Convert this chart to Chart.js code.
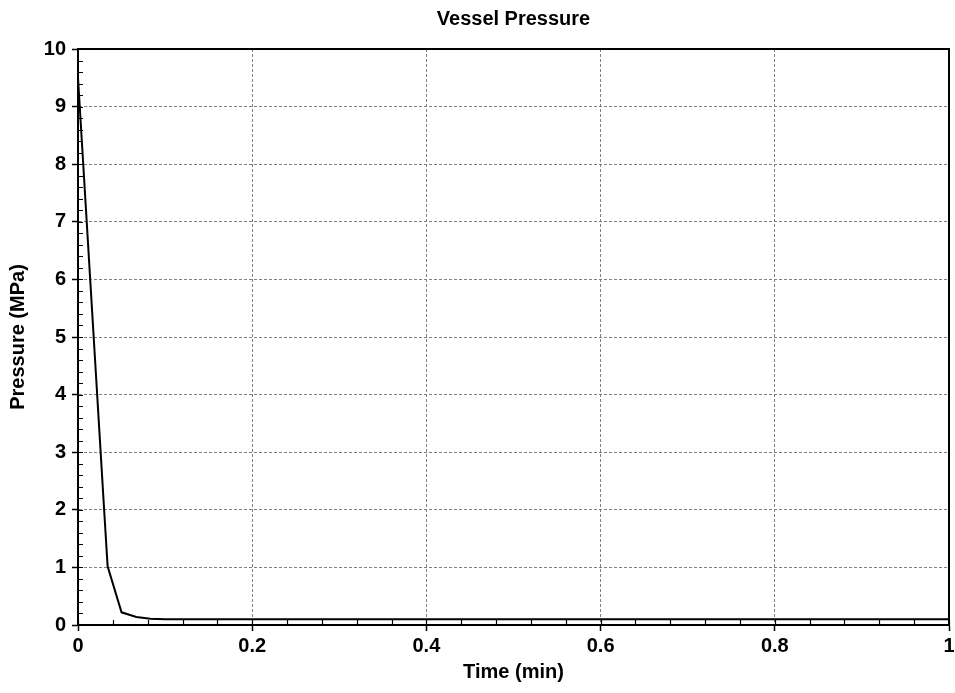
<!DOCTYPE html>
<html>
<head>
<meta charset="utf-8">
<title>Vessel Pressure</title>
<script src="https://cdn.jsdelivr.net/npm/chart.js@4/dist/chart.umd.min.js"></script>
<style>
  html, body { margin: 0; padding: 0; background: #fff; }
  #wrap { width: 955px; height: 693px; }
</style>
</head>
<body>
<div id="wrap"><canvas id="chart" width="955" height="693"></canvas></div>
<script>
// time in minutes, pressure in MPa
const timeMin = [0, 0.030, 0.034, 0.050, 0.067, 0.083, 0.100, 0.200, 0.300, 0.400, 0.500, 0.600, 0.700, 0.800, 0.900, 1.000];
const pressure = [9.5, 2.0, 1.02, 0.22, 0.14, 0.11, 0.10, 0.10, 0.10, 0.10, 0.10, 0.10, 0.10, 0.10, 0.10, 0.10];

const xMinorStep = 0.04;
const yMinorStep = 0.2;

const points = timeMin.map((t, i) => ({ x: t, y: pressure[i] }));

// small inward minor ticks + closed box like the original plot
const frame = {
  id: "frame",
  afterDraw(chart) {
    const { ctx, chartArea: a, scales } = chart;
    const x = scales.x, y = scales.y;
    ctx.save();
    ctx.strokeStyle = "#000";
    ctx.lineWidth = 1.2;
    ctx.beginPath();
    for (let v = 0; v <= 10.0001; v += yMinorStep) {
      const py = Math.round(y.getPixelForValue(v)) + 0.5;
      ctx.moveTo(a.left, py);
      ctx.lineTo(a.left + 5, py);
    }
    for (let v = 0; v <= 1.0001; v += xMinorStep) {
      const px = Math.round(x.getPixelForValue(v)) + 0.5;
      ctx.moveTo(px, a.bottom);
      ctx.lineTo(px, a.bottom - 5);
    }
    ctx.stroke();
    ctx.lineWidth = 2;
    ctx.strokeRect(a.left, a.top, a.right - a.left, a.bottom - a.top);
    ctx.restore();
  }
};

const font = "'Liberation Sans', Arial, sans-serif";

new Chart(document.getElementById("chart"), {
  type: "line",
  data: {
    datasets: [{
      data: points,
      borderColor: "#000",
      borderWidth: 2,
      pointRadius: 0,
      tension: 0,
      fill: false
    }]
  },
  options: {
    responsive: false,
    animation: false,
    layout: { padding: { left: 0, right: 6, top: 0, bottom: 0 } },
    plugins: {
      legend: { display: false },
      tooltip: { enabled: false },
      title: {
        display: true,
        fullSize: false,
        text: "Vessel Pressure",
        color: "#000",
        font: { family: font, size: 20, weight: "bold" },
        padding: { top: 7, bottom: 18 }
      }
    },
    scales: {
      x: {
        type: "linear",
        min: 0,
        max: 1,
        ticks: {
          stepSize: 0.2,
          color: "#000",
          padding: 3,
          maxRotation: 0,
          font: { family: font, size: 20, weight: "bold" },
          callback: (v) => String(Math.round(v * 10) / 10)
        },
        grid: { color: "#808080", lineWidth: 1, tickLength: 6, tickColor: "#000", tickWidth: 1.5 },
        border: { display: true, color: "#000", width: 2, dash: [3, 2] },
        title: {
          display: true,
          text: "Time (min)",
          color: "#000",
          font: { family: font, size: 20, weight: "bold" },
          padding: { top: 2, bottom: 9 }
        },
        afterFit(scale) {
          scale.height = 68;
          scale.paddingRight = 0;
        }
      },
      y: {
        min: 0,
        max: 10,
        ticks: {
          stepSize: 1,
          color: "#000",
          padding: 6,
          font: { family: font, size: 20, weight: "bold" }
        },
        grid: { color: "#808080", lineWidth: 1, tickLength: 6, tickColor: "#000", tickWidth: 1.5 },
        border: { display: true, color: "#000", width: 2, dash: [3, 2] },
        title: {
          display: true,
          text: "Pressure (MPa)",
          color: "#000",
          font: { family: font, size: 20, weight: "bold" },
          padding: { top: 6, bottom: 4 }
        },
        afterFit(scale) { scale.width = 78; }
      }
    }
  },
  plugins: [frame]
});
</script>
</body>
</html>
